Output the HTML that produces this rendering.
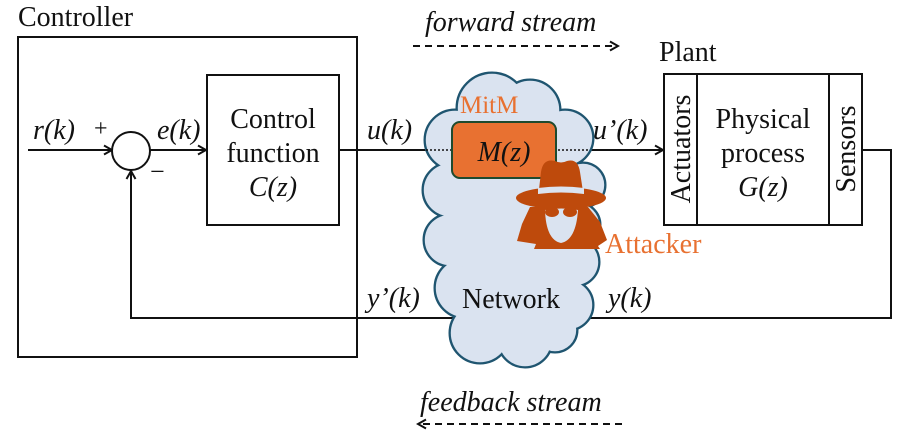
<!DOCTYPE html>
<html><head><meta charset="utf-8"><style>
html,body{margin:0;padding:0;background:#fff}
svg{display:block}
text{font-family:"Liberation Serif",serif;fill:#111}
.i{font-style:italic}
</style></head><body>
<svg width="897" height="430" viewBox="0 0 897 430" xmlns="http://www.w3.org/2000/svg">
<defs>
<marker id="a" markerWidth="12" markerHeight="12" refX="10" refY="6" orient="auto" markerUnits="userSpaceOnUse">
<path d="M2,1.5 L10,6 L2,10.5" fill="none" stroke="#111" stroke-width="2"/></marker>
</defs>
<!-- Controller -->
<text x="18" y="26" font-size="28">Controller</text>
<rect x="18" y="37" width="339" height="320" fill="none" stroke="#111" stroke-width="2"/>
<line x1="28" y1="150" x2="112" y2="150" stroke="#111" stroke-width="2" marker-end="url(#a)"/>
<circle cx="131" cy="151" r="19" fill="#fff" stroke="#111" stroke-width="2"/>
<line x1="150" y1="150" x2="206" y2="150" stroke="#111" stroke-width="2" marker-end="url(#a)"/>
<rect x="207" y="75" width="132" height="150" fill="#fff" stroke="#111" stroke-width="2"/>
<text x="273" y="128" font-size="28" text-anchor="middle">Control</text>
<text x="273" y="162" font-size="28" text-anchor="middle">function</text>
<text x="273" y="196" font-size="28" text-anchor="middle" class="i">C(z)</text>
<text x="33" y="139" font-size="28" class="i">r(k)</text>
<text x="94" y="136" font-size="24">+</text>
<text x="150" y="180" font-size="26">−</text>
<text x="157" y="139" font-size="28" class="i">e(k)</text>
<!-- feedback loop -->
<polyline points="862,150 891,150 891,318 131,318 131,171" fill="none" stroke="#111" stroke-width="2" marker-end="url(#a)"/>
<!-- forward line -->
<line x1="339" y1="150" x2="440" y2="150" stroke="#111" stroke-width="2"/>
<line x1="590" y1="150" x2="663" y2="150" stroke="#111" stroke-width="2" marker-end="url(#a)"/>
<!-- cloud -->
<g fill="#DAE3F0" stroke="#1F5570" stroke-width="3">
<circle cx="492" cy="108" r="35"/><circle cx="530" cy="110" r="30"/><circle cx="565" cy="138" r="28"/>
<circle cx="455" cy="140" r="30"/><circle cx="450" cy="190" r="27"/><circle cx="583" cy="185" r="22"/>
<circle cx="578" cy="225" r="22"/><circle cx="450" cy="240" r="26"/><circle cx="575" cy="262" r="24"/>
<circle cx="465" cy="288" r="30"/><circle cx="568" cy="305" r="25"/><circle cx="480" cy="333" r="30"/>
<circle cx="525" cy="340" r="27"/><circle cx="555" cy="330" r="22"/>
<circle cx="512" cy="200" r="62"/><circle cx="515" cy="280" r="55"/>
</g>
<g fill="#DAE3F0">
<circle cx="492" cy="108" r="34.2"/><circle cx="530" cy="110" r="29.2"/><circle cx="565" cy="138" r="27.2"/>
<circle cx="455" cy="140" r="29.2"/><circle cx="450" cy="190" r="26.2"/><circle cx="583" cy="185" r="21.2"/>
<circle cx="578" cy="225" r="21.2"/><circle cx="450" cy="240" r="25.2"/><circle cx="575" cy="262" r="23.2"/>
<circle cx="465" cy="288" r="29.2"/><circle cx="568" cy="305" r="24.2"/><circle cx="480" cy="333" r="29.2"/>
<circle cx="525" cy="340" r="26.2"/><circle cx="555" cy="330" r="21.2"/>
<circle cx="512" cy="200" r="61.2"/><circle cx="515" cy="280" r="54.2"/>
</g>
<line x1="426" y1="150" x2="590" y2="150" stroke="#111" stroke-width="1.5" stroke-dasharray="2,2"/>
<text x="460" y="113" font-size="25" style="fill:#E87131">MitM</text>
<rect x="452" y="122" width="104" height="56" rx="8" fill="#E87131" stroke="#1E4A2E" stroke-width="2"/>
<text x="504" y="161" font-size="28" text-anchor="middle" class="i">M(z)</text>
<!-- attacker -->
<g fill="#BE4A0C">
<path d="M538,198 L541,172 Q543,158 555,161 Q561,164 567,161 Q578,158 580,172 L584,198 Z"/>
<ellipse cx="561" cy="198" rx="45" ry="11"/>
<path d="M530,207 L588,207 L600,222 L607,240 L598,246 L600,249 L534,249 L536,244 L517,241 L522,224 Z"/>
</g>
<path d="M538,188 Q561,185 584,188 L584,194 Q561,191 538,194 Z" fill="#DAE3F0"/>
<path d="M545,210 Q561,207 578,210 Q576,240 561,243 Q546,240 545,210 Z" fill="#DAE3F0"/>
<ellipse cx="552" cy="212" rx="7" ry="5" fill="#BE4A0C"/><ellipse cx="570" cy="212" rx="7" ry="5" fill="#BE4A0C"/>
<text x="605" y="253" font-size="28" style="fill:#E87131">Attacker</text>
<text x="511" y="308" font-size="28" text-anchor="middle">Network</text>
<!-- labels -->
<text x="367" y="139" font-size="28" class="i">u(k)</text>
<text x="593" y="139" font-size="28" class="i">u’(k)</text>
<text x="367" y="307" font-size="28" class="i">y’(k)</text>
<text x="608" y="307" font-size="28" class="i">y(k)</text>
<!-- streams -->
<text x="425" y="31" font-size="28" class="i">forward stream</text>
<line x1="413" y1="46" x2="618" y2="46" stroke="#111" stroke-width="2" stroke-dasharray="7,5" marker-end="url(#a)"/>
<text x="420" y="411" font-size="28" class="i">feedback stream</text>
<line x1="622" y1="424" x2="418" y2="424" stroke="#111" stroke-width="2" stroke-dasharray="7,5" marker-end="url(#a)"/>
<!-- plant -->
<text x="659" y="61" font-size="28">Plant</text>
<rect x="664" y="74" width="198" height="151" fill="#fff" stroke="#111" stroke-width="2"/>
<line x1="697" y1="74" x2="697" y2="225" stroke="#111" stroke-width="2"/>
<line x1="829" y1="74" x2="829" y2="225" stroke="#111" stroke-width="2"/>
<text transform="translate(690,149) rotate(-90)" font-size="28" text-anchor="middle">Actuators</text>
<text transform="translate(855,149) rotate(-90)" font-size="28" text-anchor="middle">Sensors</text>
<text x="763" y="128" font-size="28" text-anchor="middle">Physical</text>
<text x="763" y="162" font-size="28" text-anchor="middle">process</text>
<text x="763" y="196" font-size="28" text-anchor="middle" class="i">G(z)</text>
</svg>
</body></html>
